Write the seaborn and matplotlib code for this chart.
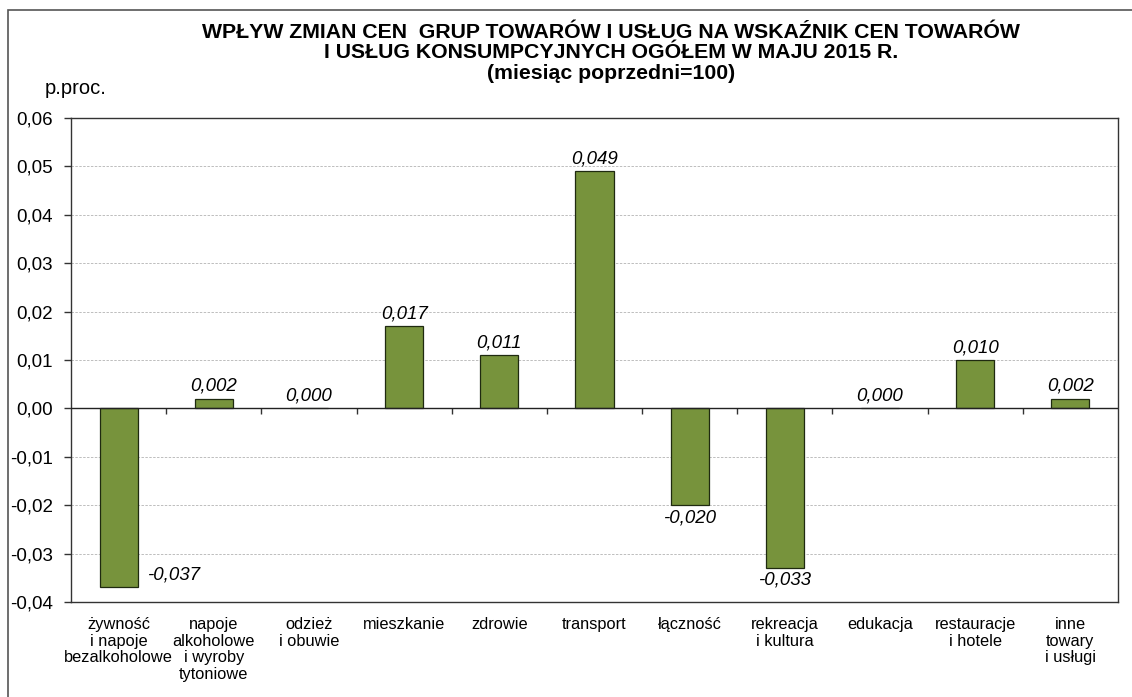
import seaborn as sns
import pandas as pd
import matplotlib.pyplot as plt
from matplotlib.patches import Rectangle
from matplotlib.ticker import FuncFormatter

categories = ["żywność\ni napoje\nbezalkoholowe", "napoje\nalkoholowe\ni wyroby\ntytoniowe",
              "odzież\ni obuwie", "mieszkanie", "zdrowie", "transport", "łączność",
              "rekreacja\ni kultura", "edukacja", "restauracje\ni hotele", "inne\ntowary\ni usługi"]
values = [-0.037, 0.002, 0.000, 0.017, 0.011, 0.049, -0.020, -0.033, 0.000, 0.010, 0.002]
y_ticks = [-0.04, -0.03, -0.02, -0.01, 0.0, 0.01, 0.02, 0.03, 0.04, 0.05, 0.06]

sns.set_style("white")
plt.rcParams['font.family'] = ['Liberation Sans', 'DejaVu Sans']
plt.rcParams['text.color'] = 'black'
plt.rcParams['xtick.color'] = 'black'
plt.rcParams['ytick.color'] = 'black'

df = pd.DataFrame({"kat": categories, "val": values})

fig = plt.figure(figsize=(11.32, 6.97), dpi=100)
ax = fig.add_axes([71 / 1132, 1 - 602 / 697, (1118 - 71) / 1132, (602 - 118) / 697])

sns.barplot(data=df, x="kat", y="val", color="#77933C", saturation=1, width=0.4,
            edgecolor="#1f2a10", linewidth=0.9, ax=ax)

ax.set_ylim(-0.04, 0.06)
ax.set_xlim(-0.5, len(categories) - 0.5)
ax.set_yticks(y_ticks)
ax.yaxis.set_major_formatter(FuncFormatter(lambda v, p: f"{v:.2f}".replace('.', ',').replace('-0,00', '0,00')))
ax.tick_params(axis='y', length=5, width=1, color='#333333', labelsize=13.5, pad=8, left=True)
ax.tick_params(axis='x', length=0, labelsize=11.8, pad=11)
for lbl in ax.get_xticklabels():
    lbl.set_linespacing(1.12)
ax.set_xlabel("")
ax.set_ylabel("")

# gridlines
for t in y_ticks:
    if t not in (0.0, 0.06, -0.04):
        ax.axhline(t, color="#bdbdbd", linestyle=(0, (2.5, 1.5)), linewidth=0.7, zorder=0)
ax.axhline(0, color="#222222", linewidth=1, zorder=3)

for s in ax.spines.values():
    s.set_color("#333333")
    s.set_linewidth(1)

# tick marks on zero line between categories
sec = ax.secondary_xaxis(0.4)
sec.set_xticks([k + 0.5 for k in range(len(categories) - 1)])
sec.set_xticklabels([])
sec.tick_params(length=4, width=1, color="#333333", direction='out')
sec.spines['bottom'].set_visible(False)

# value labels
for i, v in enumerate(values):
    txt = f"{v:.3f}".replace('.', ',')
    if i == 0:
        ax.text(i + 0.3, v + 0.0026, txt, ha='left', va='center', style='italic', fontsize=13.5)
    elif v < 0:
        ax.text(i, v - 0.0008, txt, ha='center', va='top', style='italic', fontsize=13.5)
    else:
        ax.text(i, v + 0.0008, txt, ha='center', va='bottom', style='italic', fontsize=13.5)

fig.text(611 / 1132, 1 - 53 / 697,
         "WPŁYW ZMIAN CEN  GRUP TOWARÓW I USŁUG NA WSKAŹNIK CEN TOWARÓW\n"
         "I USŁUG KONSUMPCYJNYCH OGÓŁEM W MAJU 2015 R.\n(miesiąc poprzedni=100)",
         ha='center', va='center', fontsize=15.3, fontweight='bold', linespacing=1.13)
fig.text(45 / 1132, 1 - 88 / 697, "p.proc.", ha='left', va='center', fontsize=14.5)

fig.patches.append(Rectangle((8 / 1132, -0.1), 1.2, 1.1 - 10 / 697, transform=fig.transFigure,
                             fill=False, edgecolor="#555555", linewidth=1.2))

fig.savefig("out.png", dpi=100)
